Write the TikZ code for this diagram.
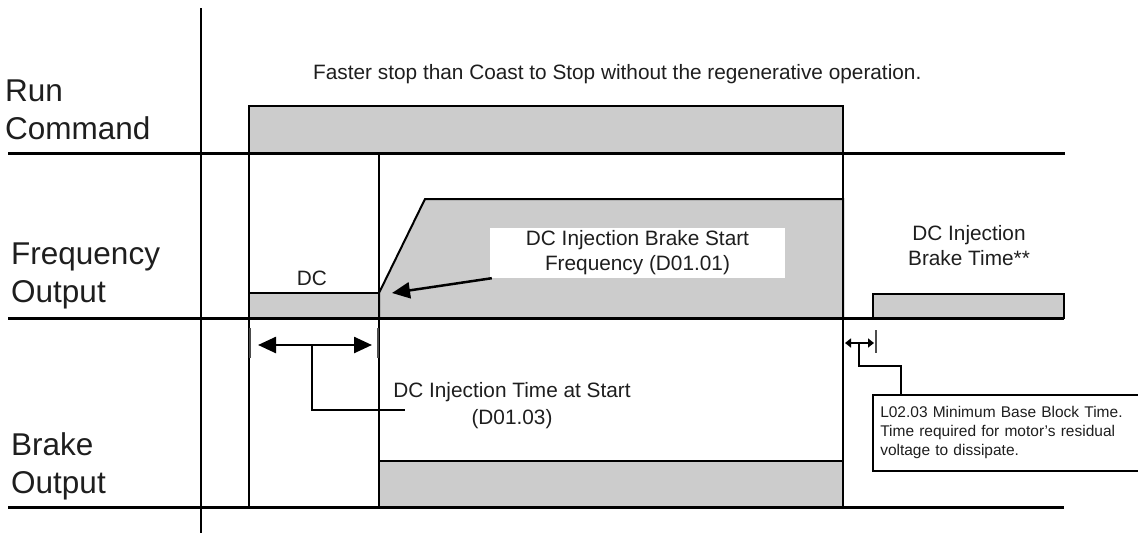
\documentclass[tikz,border=0pt]{standalone}
\usepackage{fontspec}
\setmainfont{Liberation Sans}
\usetikzlibrary{arrows.meta}
\definecolor{sigfill}{HTML}{CCCCCC}
\definecolor{txt}{HTML}{1E1E1E}
\begin{document}
\begin{tikzpicture}[x=1pt,y=-1pt,
  big/.style={font=\fontsize{31.5}{37.5}\selectfont, text=txt, align=left, inner sep=0pt},
  lbl/.style={font=\fontsize{20.8}{25}\selectfont, text=txt, align=center, inner sep=0pt},
  small/.style={font=\fontsize{15.5}{19}\selectfont, text=txt, align=left},
  axisln/.style={line width=2.5pt},
  baseln/.style={line width=3pt},
  sig/.style={draw, fill=sigfill, line width=2pt, line join=miter},
  thinln/.style={line width=1.3pt},
  tick/.style={line width=1.5pt, draw=black!70},
  bigarrow/.style={line width=2.5pt, -{Triangle[length=18pt,width=16pt]}},
  dimarrow/.style={line width=2.5pt, {Triangle[length=18pt,width=16pt]}-{Triangle[length=18pt,width=16pt]}},
  smallarrow/.style={line width=1.5pt, {Triangle[length=6pt,width=9pt]}-{Triangle[length=6pt,width=9pt]}},
  leader/.style={line width=2pt},
]
\useasboundingbox (0,0) rectangle (1138,533);
\clip (0,0) rectangle (1138,533);

% ---- signal shapes ----
\draw[sig] (249,153) -- (249,106) -- (843,106) -- (843,153) -- cycle;
\draw[sig] (249,318) -- (249,293) -- (379,293) -- (379,318) -- cycle;
\draw[sig] (379,318) -- (379,293) -- (425,199) -- (843,199) -- (843,318) -- cycle;
\draw[sig] (379,461) rectangle (843,507);
\draw[sig] (873,294) rectangle (1064,318);

% ---- time markers ----
\draw[thinln] (249,153) -- (249,507);
\draw[thinln] (379,153) -- (379,507);
\draw[thinln] (843,106) -- (843,507);

% ---- baselines and axis ----
\draw[baseln] (8,153) -- (1065,153);
\draw[baseln] (8,318) -- (1064,318);
\draw[baseln] (8,507) -- (1064,507);
\draw[axisln] (201,8) -- (201,533);

% ---- labels ----
\node[big, anchor=base west] (run) at (5,139) {Run\\Command};
\node[big, anchor=base west] (freq) at (11,302) {Frequency\\Output};
\node[big, anchor=base west] (brake) at (11,493) {Brake\\Output};

\node[lbl, anchor=base west] (title) at (313,79) {Faster stop than Coast to Stop without the regenerative operation.};
\node[lbl] (dc) at (312,278) {DC};
\node[lbl] (bt) at (969,245.5) {DC Injection\\Brake Time**};

% ---- brake start frequency callout ----
\node[lbl, fill=white, minimum width=295pt, minimum height=50pt] (bsf) at (637.5,253) {DC Injection Brake Start\\Frequency (D01.01)};
\coordinate (bsftip) at (392,293);
\draw[bigarrow] ([xshift=2pt]bsf.south west) -- (bsftip);

% ---- DC injection time at start dimension ----
\coordinate (t1a) at (250,328); \coordinate (t1b) at (250,358);
\coordinate (t2a) at (378,328); \coordinate (t2b) at (378,358);
\draw[tick] (t1a) -- (t1b);
\draw[tick] (t2a) -- (t2b);
\coordinate (d1l) at (258,345); \coordinate (d1r) at (372,345);
\draw[dimarrow] (d1l) -- (d1r);
\coordinate (d1m) at (312,345); \coordinate (d1e) at (405,410);
\draw[leader] (d1m) |- (d1e);
\node[lbl, font=\fontsize{20.8}{27}\selectfont] (dits) at (512,405.5) {DC Injection Time at Start\\(D01.03)};

% ---- minimum base block time dimension ----
\coordinate (t3a) at (876,330); \coordinate (t3b) at (876,353);
\draw[tick] (t3a) -- (t3b);
\coordinate (d2l) at (845,343); \coordinate (d2r) at (874,343);
\draw[smallarrow] (d2l) -- (d2r);
\node[small, draw, line width=1.5pt, anchor=north west, minimum width=300pt, minimum height=76pt, text width=285pt, inner xsep=2pt, inner ysep=3pt] (bbt) at (872,394) {L02.03 Minimum Base Block Time.\\Time required for motor's residual\\voltage to dissipate.};
\coordinate (d2m) at (859,343); \coordinate (d2k) at (901,366);
\draw[leader] (d2m) |- (d2k) -- (bbt.north west -| d2k);
\end{tikzpicture}
\end{document}
